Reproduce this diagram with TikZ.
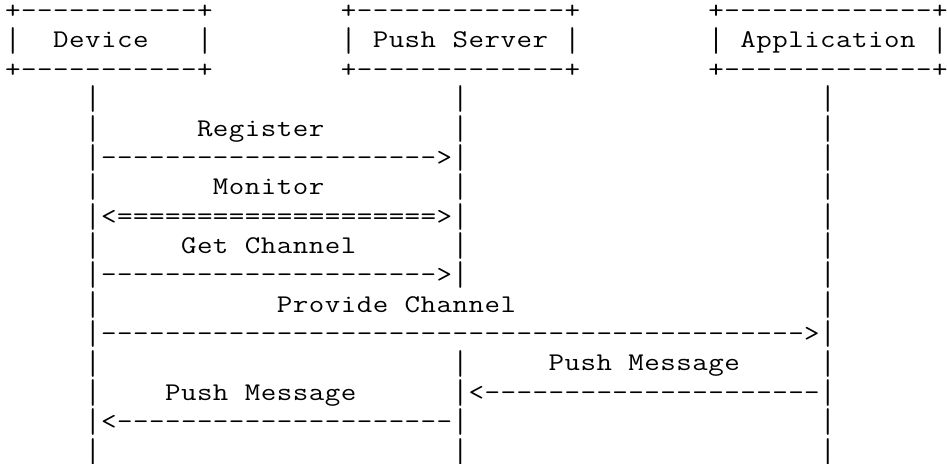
\documentclass[tikz,border=0pt]{standalone}
\usepackage{fontspec}
\usepackage{graphicx}

% Fixed-pitch character grid: every glyph sits centred in a cell of width \cellw,
% widened a little; the bar is stretched so lifelines read as continuous
\newlength\cellw
\setlength\cellw{15.98pt}
\ExplSyntaxOn
\cs_new:Npn \__grid_cell:n #1
  {
    \str_if_eq:nnTF {#1} {|}
      { \makebox[\cellw][c]{\raisebox{-3.2pt}{\scalebox{1.18}[1.35]{|}}} }
      { \makebox[\cellw][c]{\scalebox{1.18}[1]{#1}} }
  }
\NewDocumentCommand\cells{m}{\str_map_inline:nn{#1}{\__grid_cell:n{##1}}}
\NewDocumentCommand\rep{mm}{\prg_replicate:nn{#1}{\__grid_cell:n{#2}}}
\ExplSyntaxOff

\tikzset{
  ascii/.style={anchor=base west, inner sep=0pt, outer sep=0pt,
    font=\ttfamily\fontsize{25.5}{29}\selectfont},
}
% \glyphs{name}{column}{row}{text}
\newcommand\glyphs[4]{\node[ascii] (#1) at ({(5+15.98*#2)*1pt},{-(18.6+29.35*#3)*1pt}) {#4};}

\begin{document}
\begin{tikzpicture}
\useasboundingbox (0,0) rectangle (947pt,-463pt);

% participant boxes
\glyphs{devTop}{0}{0}{\cells{+}\rep{11}{-}\cells{+}}
\glyphs{srvTop}{21}{0}{\cells{+}\rep{13}{-}\cells{+}}
\glyphs{appTop}{44}{0}{\cells{+}\rep{13}{-}\cells{+}}
\glyphs{devL}{0}{1}{\cells{|}}
\glyphs{dev}{3}{1}{\cells{Device}}
\glyphs{devR}{12}{1}{\cells{|}}
\glyphs{srvL}{21}{1}{\cells{|}}
\glyphs{srv}{23}{1}{\cells{Push Server}}
\glyphs{srvR}{35}{1}{\cells{|}}
\glyphs{appL}{44}{1}{\cells{|}}
\glyphs{app}{46}{1}{\cells{Application}}
\glyphs{appR}{58}{1}{\cells{|}}
\glyphs{devBot}{0}{2}{\cells{+}\rep{11}{-}\cells{+}}
\glyphs{srvBot}{21}{2}{\cells{+}\rep{13}{-}\cells{+}}
\glyphs{appBot}{44}{2}{\cells{+}\rep{13}{-}\cells{+}}

% lifelines
\foreach \r in {3,...,15} {
  \glyphs{devLife\r}{5}{\r}{\cells{|}}
  \glyphs{appLife\r}{51}{\r}{\cells{|}}
}
\foreach \r in {3,...,9,12,13,14,15} {
  \glyphs{srvLife\r}{28}{\r}{\cells{|}}
}

% messages
\glyphs{regLbl}{12}{4}{\cells{Register}}
\glyphs{regArr}{6}{5}{\rep{21}{-}\cells{>}}
\glyphs{monLbl}{13}{6}{\cells{Monitor}}
\glyphs{monArr}{6}{7}{\cells{<}\rep{20}{=}\cells{>}}
\glyphs{getLbl}{11}{8}{\cells{Get Channel}}
\glyphs{getArr}{6}{9}{\rep{21}{-}\cells{>}}
\glyphs{provLbl}{17}{10}{\cells{Provide Channel}}
\glyphs{provArr}{6}{11}{\rep{44}{-}\cells{>}}
\glyphs{pushALbl}{34}{12}{\cells{Push Message}}
\glyphs{pushAArr}{29}{13}{\cells{<}\rep{21}{-}}
\glyphs{pushBLbl}{10}{13}{\cells{Push Message}}
\glyphs{pushBArr}{6}{14}{\cells{<}\rep{21}{-}}
\end{tikzpicture}
\end{document}
